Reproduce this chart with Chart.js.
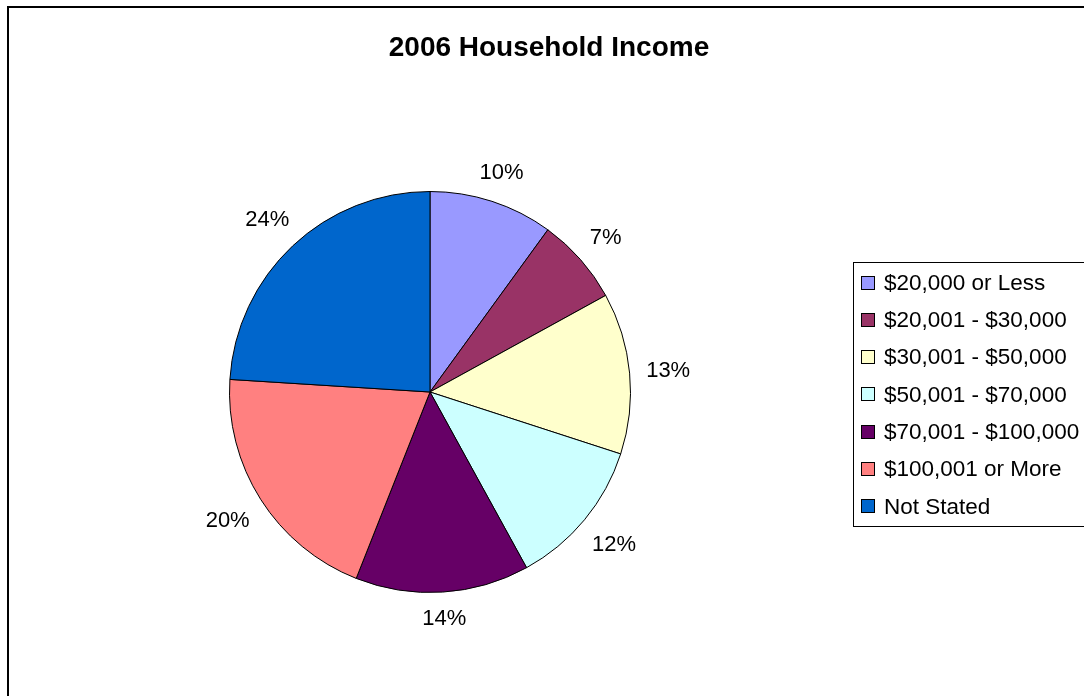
<!DOCTYPE html>
<html>
<head>
<meta charset="utf-8">
<script src="https://cdn.jsdelivr.net/npm/chart.js@4/dist/chart.umd.min.js"></script>
<style>
  html, body { margin: 0; padding: 0; background: #fff; overflow: hidden; }
  #wrap { width: 1084px; height: 696px; position: relative; }
  canvas { display: block; }
</style>
</head>
<body>
<div id="wrap"><canvas id="c" width="1084" height="696"></canvas></div>
<script>
// Household income distribution, 2006 (percent of households)
const chartTitle = '2006 Household Income';
const categories = [
  '$20,000 or Less',
  '$20,001 - $30,000',
  '$30,001 - $50,000',
  '$50,001 - $70,000',
  '$70,001 - $100,000',
  '$100,001 or More',
  'Not Stated'
];
const shares = [10, 7, 13, 12, 14, 20, 24];
const sliceColors = ['#9999FF', '#993366', '#FFFFCC', '#CCFFFF', '#660066', '#FF8080', '#0066CC'];

const FONT = '"Liberation Sans", Arial, Helvetica, sans-serif';

// Outer frame and title
const framePlugin = {
  id: 'frame',
  beforeDraw(chart) {
    const ctx = chart.ctx;
    ctx.save();
    ctx.fillStyle = '#ffffff';
    ctx.fillRect(0, 0, chart.width, chart.height);
    ctx.strokeStyle = '#000000';
    ctx.lineWidth = 2;
    ctx.strokeRect(8, 7, 1100, 720);
    ctx.fillStyle = '#000000';
    ctx.font = 'bold 28px ' + FONT;
    ctx.textAlign = 'center';
    ctx.textBaseline = 'middle';
    ctx.fillText(chartTitle, 549, 48);
    ctx.restore();
  }
};

// Percentage labels just outside each slice
const outsideLabels = {
  id: 'outsideLabels',
  afterDatasetsDraw(chart) {
    const ctx = chart.ctx;
    const meta = chart.getDatasetMeta(0);
    const data = chart.data.datasets[0].data;
    const total = data.reduce((a, b) => a + b, 0);
    ctx.save();
    ctx.font = '22px ' + FONT;
    ctx.fillStyle = '#000000';
    ctx.textAlign = 'center';
    ctx.textBaseline = 'middle';
    meta.data.forEach((arc, i) => {
      const p = arc.getProps(['x', 'y', 'startAngle', 'endAngle', 'outerRadius'], true);
      const mid = (p.startAngle + p.endAngle) / 2;
      const dx = Math.cos(mid), dy = Math.sin(mid);
      const text = Math.round(data[i] / total * 100) + '%';
      const w = ctx.measureText(text).width;
      const h = 17;
      const d = p.outerRadius + 16 + Math.abs(dx) * w / 2 + Math.abs(dy) * h / 2;
      ctx.fillText(text, p.x + dx * d, p.y + dy * d + 1);
    });
    ctx.restore();
  }
};

// Boxed legend on the right
const boxLegend = {
  id: 'boxLegend',
  afterDraw(chart) {
    const ctx = chart.ctx;
    const labels = chart.data.labels;
    const colors = chart.data.datasets[0].backgroundColor;
    ctx.save();
    ctx.strokeStyle = '#000000';
    ctx.lineWidth = 1;
    ctx.strokeRect(853.5, 262.5, 300, 264);
    ctx.font = '22.5px ' + FONT;
    ctx.textAlign = 'left';
    ctx.textBaseline = 'middle';
    labels.forEach((lab, i) => {
      const cy = 282.5 + i * 37.33;
      const top = Math.round(cy) - 6.5;
      ctx.fillStyle = colors[i];
      ctx.fillRect(861.5, top, 13, 13);
      ctx.strokeStyle = '#000000';
      ctx.strokeRect(861.5, top, 13, 13);
      ctx.fillStyle = '#000000';
      ctx.fillText(lab, 884, cy + 1);
    });
    ctx.restore();
  }
};

new Chart(document.getElementById('c'), {
  type: 'pie',
  data: {
    labels: categories,
    datasets: [{
      data: shares,
      backgroundColor: sliceColors,
      borderColor: '#000000',
      borderWidth: 1,
      borderAlign: 'center'
    }]
  },
  options: {
    responsive: false,
    animation: false,
    devicePixelRatio: 1,
    layout: { padding: { left: 229, top: 191, right: 453, bottom: 103 } },
    plugins: {
      legend: { display: false },
      title: { display: false },
      tooltip: { enabled: false }
    }
  },
  plugins: [framePlugin, outsideLabels, boxLegend]
});
</script>
</body>
</html>
